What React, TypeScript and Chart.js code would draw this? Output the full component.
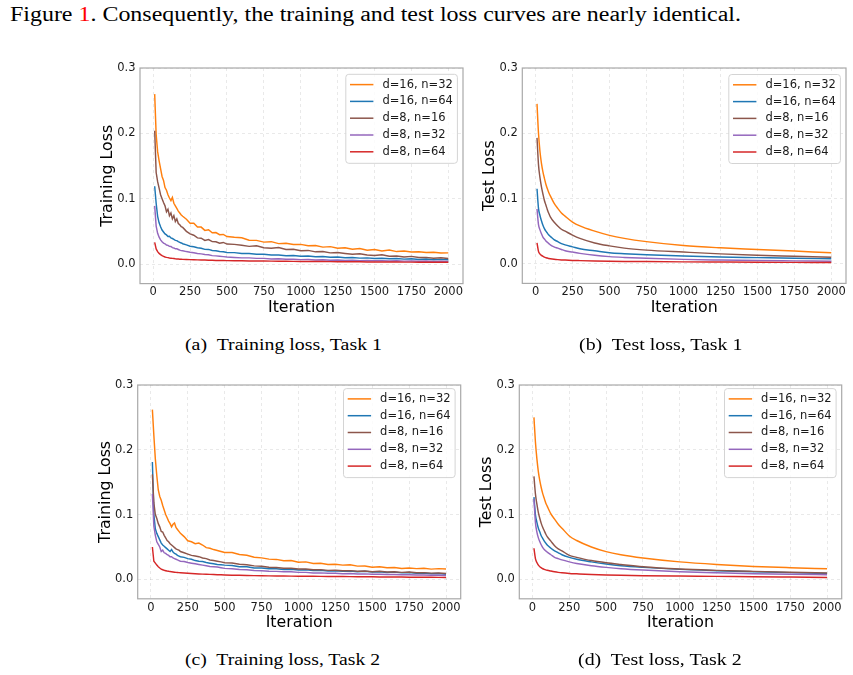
import React, { useEffect, useLayoutEffect, useRef } from 'react';
import { Chart, registerables } from 'chart.js';

Chart.register(...registerables);

// Iterations at which losses were logged
const X_TRAIN = [
  10, 20, 30, 40, 50, 60, 70, 80, 90, 100, 110, 120, 130, 140, 150, 160, 170, 180, 190, 200,
  225, 250, 275, 300, 325, 350, 375, 400, 425, 450, 475, 500,
  550, 600, 650, 700, 750, 800, 850, 900, 950, 1000, 1050, 1100, 1150, 1200, 1250, 1300, 1350, 1400,
  1450, 1500, 1550, 1600, 1650, 1700, 1750, 1800, 1850, 1900, 1950, 2000,
];
const X_TEST = [10, 20, 30, 40, 50, 60, 70, 80, 90, 100, 125, 150, 175, 200, 250, 300, 400, 500, 600, 750, 1000, 1250, 1500, 1750, 2000];

const SERIES_LABELS = ['d=16, n=32', 'd=16, n=64', 'd=8, n=16', 'd=8, n=32', 'd=8, n=64'];
const SERIES_COLORS = ['#ff7f0e', '#1f77b4', '#8c564b', '#9467bd', '#d62728'];

const X_TICKS = [0, 250, 500, 750, 1000, 1250, 1500, 1750, 2000];
const Y_TICKS = [0, 0.1, 0.2, 0.3];

// Task 1 — training loss
const T1_TRAIN_D16_N32 = [
  0.260, 0.198, 0.172, 0.158, 0.146, 0.134, 0.128, 0.117, 0.113, 0.106, 0.101, 0.097, 0.102, 0.093, 0.089, 0.085, 0.081, 0.078, 0.075, 0.073,
  0.0685, 0.0625, 0.0625, 0.0565, 0.0565, 0.0515, 0.0525, 0.0478, 0.0482, 0.0448, 0.0452, 0.0420,
  0.0408, 0.0402, 0.0365, 0.0362, 0.0335, 0.0342, 0.0312, 0.0318, 0.0298, 0.0300, 0.0280, 0.0284, 0.0258, 0.0266, 0.0240,
  0.0250, 0.0226, 0.0236, 0.0212, 0.0222, 0.0200, 0.0213, 0.0190, 0.0198, 0.0183, 0.0188, 0.0176, 0.0180, 0.0168, 0.0170,
];
const T1_TRAIN_D16_N64 = [
  0.119, 0.093, 0.073, 0.063, 0.057, 0.052, 0.049, 0.046, 0.0445, 0.042, 0.0425, 0.040, 0.039, 0.0378, 0.0362, 0.0358, 0.0342, 0.0332, 0.0322, 0.031,
  0.0292, 0.0272, 0.0264, 0.0250, 0.0240, 0.0224, 0.0223, 0.0206, 0.0203, 0.0191, 0.0188, 0.0176,
  0.0174, 0.0161, 0.0161, 0.0148, 0.0149, 0.0137, 0.0139, 0.0127, 0.0130, 0.0119, 0.0122, 0.0111, 0.0114, 0.0103, 0.0107,
  0.0096, 0.0100, 0.0090, 0.0094, 0.0084, 0.0088, 0.0079, 0.0084, 0.0075, 0.0079, 0.0070, 0.0075, 0.0066, 0.0071, 0.0064,
];
const T1_TRAIN_D8_N16 = [
  0.204, 0.140, 0.126, 0.116, 0.106, 0.100, 0.094, 0.089, 0.080, 0.084, 0.074, 0.078, 0.069, 0.074, 0.065, 0.069, 0.062, 0.060, 0.057, 0.056,
  0.050, 0.046, 0.044, 0.040, 0.0395, 0.036, 0.0374, 0.0342, 0.0340, 0.0318, 0.0330, 0.0305,
  0.0300, 0.0286, 0.0270, 0.0278, 0.0250, 0.0242, 0.0252, 0.0222, 0.0226, 0.0204, 0.0208, 0.0186, 0.0190, 0.0170, 0.0176,
  0.0162, 0.0148, 0.0156, 0.0137, 0.0131, 0.0140, 0.0119, 0.0123, 0.0107, 0.0117, 0.0099, 0.0101, 0.0089, 0.0097, 0.0083,
];
const T1_TRAIN_D8_N32 = [
  0.089, 0.058, 0.047, 0.041, 0.037, 0.034, 0.032, 0.031, 0.029, 0.0285, 0.027, 0.0268, 0.025, 0.0245, 0.0232, 0.0232, 0.0222, 0.0212, 0.0205, 0.0202,
  0.019, 0.018, 0.0172, 0.0162, 0.0155, 0.0146, 0.0142, 0.0128, 0.0124, 0.0118, 0.0113, 0.0107,
  0.0101, 0.0094, 0.0094, 0.0086, 0.0086, 0.0078, 0.0079, 0.0072, 0.0073, 0.0067, 0.0068, 0.0062, 0.0064, 0.0058, 0.0060,
  0.0054, 0.0057, 0.0051, 0.0054, 0.0049, 0.0051, 0.0046, 0.0049, 0.0044, 0.0047, 0.0042, 0.0045, 0.0040, 0.0043, 0.0039,
];
const T1_TRAIN_D8_N64 = [
  0.033, 0.023, 0.019, 0.0162, 0.0144, 0.0128, 0.0118, 0.0108, 0.0102, 0.0097, 0.0092, 0.0089, 0.0086, 0.0083, 0.008, 0.0078, 0.0076, 0.0074, 0.0073, 0.0071,
  0.0069, 0.0067, 0.0065, 0.0063, 0.0061, 0.006, 0.0058, 0.0056, 0.0055, 0.0054, 0.0053, 0.0052,
  0.005, 0.0049, 0.0047, 0.0046, 0.0045, 0.0044, 0.0042, 0.0041, 0.004, 0.0039, 0.0038, 0.0037, 0.0037, 0.0036, 0.0035,
  0.0034, 0.0034, 0.0033, 0.0032, 0.0032, 0.0031, 0.003, 0.003, 0.0029, 0.0029, 0.0028, 0.0028, 0.0027, 0.0027, 0.0026,
];

// Task 1 — test loss
const T1_TEST_D16_N32 = [0.245, 0.200, 0.172, 0.154, 0.141, 0.131, 0.122, 0.115, 0.109, 0.104, 0.093, 0.085, 0.078, 0.073, 0.064, 0.058, 0.050, 0.0436, 0.039, 0.034, 0.028, 0.0245, 0.022, 0.0195, 0.017];
const T1_TEST_D16_N64 = [0.115, 0.085, 0.074, 0.066, 0.059, 0.054, 0.050, 0.047, 0.044, 0.042, 0.037, 0.034, 0.031, 0.029, 0.026, 0.023, 0.020, 0.017, 0.0155, 0.0138, 0.012, 0.0105, 0.0095, 0.0085, 0.0077];
const T1_TEST_D8_N16 = [0.193, 0.152, 0.132, 0.118, 0.107, 0.097, 0.090, 0.083, 0.077, 0.072, 0.064, 0.058, 0.053, 0.050, 0.044, 0.039, 0.032, 0.0275, 0.024, 0.021, 0.018, 0.0152, 0.013, 0.0115, 0.010];
const T1_TEST_D8_N32 = [0.084, 0.060, 0.052, 0.046, 0.041, 0.038, 0.035, 0.033, 0.031, 0.029, 0.026, 0.024, 0.022, 0.020, 0.018, 0.016, 0.013, 0.011, 0.0098, 0.0085, 0.0068, 0.0058, 0.005, 0.0045, 0.004];
const T1_TEST_D8_N64 = [0.032, 0.019, 0.015, 0.013, 0.0115, 0.0102, 0.0094, 0.0088, 0.0082, 0.0078, 0.007, 0.0064, 0.006, 0.0057, 0.0052, 0.0049, 0.0044, 0.004, 0.0037, 0.0034, 0.003, 0.0027, 0.0024, 0.0022, 0.002];

// Task 2 — training loss
const T2_TRAIN_D16_N32 = [
  0.262, 0.222, 0.186, 0.160, 0.138, 0.128, 0.122, 0.114, 0.107, 0.100, 0.095, 0.090, 0.086, 0.081, 0.085, 0.087, 0.080, 0.077, 0.074, 0.071,
  0.066, 0.0595, 0.058, 0.055, 0.056, 0.053, 0.049, 0.048, 0.046, 0.0445, 0.043, 0.0415,
  0.0415, 0.0385, 0.0372, 0.0342, 0.0332, 0.0312, 0.0308, 0.0288, 0.0290, 0.0265, 0.0270, 0.0245, 0.0250, 0.0230, 0.0232,
  0.0220, 0.0224, 0.0204, 0.0206, 0.0186, 0.0194, 0.0178, 0.0184, 0.0168, 0.0176, 0.0166, 0.0170, 0.0158, 0.0166, 0.0160,
];
const T2_TRAIN_D16_N64 = [
  0.181, 0.100, 0.078, 0.071, 0.066, 0.061, 0.056, 0.053, 0.051, 0.049, 0.047, 0.045, 0.043, 0.046, 0.042, 0.040, 0.039, 0.037, 0.036, 0.035,
  0.034, 0.032, 0.031, 0.029, 0.028, 0.0275, 0.026, 0.025, 0.024, 0.023, 0.0225, 0.022,
  0.0214, 0.0196, 0.0194, 0.0176, 0.0175, 0.0163, 0.0165, 0.0152, 0.0157, 0.0144, 0.0149, 0.0136, 0.0142, 0.0130, 0.0134,
  0.0123, 0.0130, 0.0118, 0.0124, 0.0113, 0.0117, 0.0106, 0.0112, 0.0100, 0.0106, 0.0095, 0.0097, 0.0087, 0.0090, 0.0080,
];
const T2_TRAIN_D8_N16 = [
  0.162, 0.118, 0.100, 0.094, 0.086, 0.081, 0.074, 0.073, 0.068, 0.064, 0.060, 0.058, 0.055, 0.053, 0.051, 0.049, 0.047, 0.046, 0.045, 0.043,
  0.041, 0.039, 0.037, 0.036, 0.035, 0.033, 0.032, 0.030, 0.029, 0.028, 0.027, 0.0256,
  0.0252, 0.0232, 0.0226, 0.0208, 0.0202, 0.0188, 0.0184, 0.0171, 0.0171, 0.0159, 0.0159, 0.0148, 0.0150, 0.0139, 0.0140,
  0.0133, 0.0135, 0.0125, 0.0130, 0.0118, 0.0124, 0.0113, 0.0116, 0.0108, 0.0113, 0.0103, 0.0104, 0.0096, 0.0098, 0.0092,
];
const T2_TRAIN_D8_N32 = [
  0.132, 0.082, 0.068, 0.058, 0.054, 0.050, 0.043, 0.045, 0.041, 0.040, 0.038, 0.037, 0.035, 0.035, 0.033, 0.032, 0.031, 0.030, 0.029, 0.028,
  0.0275, 0.026, 0.025, 0.024, 0.023, 0.022, 0.021, 0.020, 0.0195, 0.019, 0.018, 0.017,
  0.0164, 0.0153, 0.0148, 0.0138, 0.0133, 0.0126, 0.0123, 0.0116, 0.0118, 0.0108, 0.0108, 0.0099, 0.0100, 0.0094, 0.0093,
  0.0086, 0.0089, 0.0082, 0.0085, 0.0078, 0.0080, 0.0075, 0.0076, 0.0071, 0.0072, 0.0067, 0.0068, 0.0063, 0.0064, 0.0060,
];
const T2_TRAIN_D8_N64 = [
  0.050, 0.028, 0.025, 0.022, 0.0195, 0.0175, 0.0158, 0.0148, 0.014, 0.0134, 0.0128, 0.0124, 0.012, 0.0117, 0.0114, 0.0111, 0.0108, 0.0106, 0.0104, 0.0102,
  0.0097, 0.0093, 0.009, 0.0087, 0.0084, 0.0081, 0.0079, 0.0077, 0.0075, 0.0072, 0.007, 0.0068,
  0.0065, 0.0062, 0.006, 0.0058, 0.0056, 0.0054, 0.0053, 0.0052, 0.005, 0.0049, 0.0048, 0.0047, 0.0046, 0.0045, 0.0044,
  0.0043, 0.0042, 0.0041, 0.004, 0.0039, 0.0038, 0.0037, 0.0036, 0.0035, 0.0034, 0.0034, 0.0033, 0.0032, 0.0031, 0.003,
];

// Task 2 — test loss
const T2_TEST_D16_N32 = [0.250, 0.212, 0.186, 0.166, 0.152, 0.141, 0.132, 0.125, 0.118, 0.113, 0.101, 0.093, 0.085, 0.079, 0.067, 0.060, 0.050, 0.0428, 0.038, 0.033, 0.027, 0.023, 0.020, 0.018, 0.0164];
const T2_TEST_D16_N64 = [0.127, 0.100, 0.088, 0.079, 0.073, 0.067, 0.063, 0.059, 0.056, 0.053, 0.048, 0.044, 0.041, 0.038, 0.034, 0.031, 0.027, 0.0236, 0.021, 0.0185, 0.0154, 0.0134, 0.0118, 0.0104, 0.0092];
const T2_TEST_D8_N16 = [0.159, 0.132, 0.116, 0.103, 0.094, 0.086, 0.080, 0.075, 0.070, 0.066, 0.059, 0.052, 0.047, 0.044, 0.037, 0.034, 0.029, 0.0256, 0.023, 0.0195, 0.016, 0.0139, 0.0123, 0.0109, 0.0097];
const T2_TEST_D8_N32 = [0.124, 0.088, 0.073, 0.064, 0.058, 0.053, 0.049, 0.046, 0.044, 0.042, 0.038, 0.034, 0.032, 0.030, 0.027, 0.0245, 0.021, 0.0185, 0.0165, 0.0144, 0.0118, 0.0101, 0.0088, 0.0079, 0.0072];
const T2_TEST_D8_N64 = [0.048, 0.032, 0.026, 0.022, 0.0195, 0.0178, 0.0164, 0.0154, 0.0146, 0.014, 0.0128, 0.0117, 0.0108, 0.0101, 0.0092, 0.0086, 0.0075, 0.0067, 0.0062, 0.0057, 0.0051, 0.0046, 0.004, 0.0035, 0.003];

// Axis limits (x gets a 5% margin around the logged range)
const X_MIN = -89.5;
const X_MAX = 2099.5;
const Y_MIN = -0.03;
const Y_MAX = 0.3;

const TICK_FONT = { family: 'DejaVu Sans', size: 11.5 };
const TITLE_SIZE = 15.8;
const TITLE_FONT = { family: 'DejaVu Sans', size: TITLE_SIZE, lineHeight: 1.2 };
const GRID_COLOR = 'rgba(0,0,0,0.11)';

type Box = { l: number; r: number; t: number; b: number };

// Axes frame plus a framed legend in the upper-right corner of the plot area
const frameLegend = {
  id: 'frameLegend',
  afterDatasetsDraw(chart: any, _args: any, opts: any) {
    const { ctx, chartArea: a } = chart;
    ctx.save();
    ctx.strokeStyle = '#a9a9a9';
    ctx.lineWidth = 1.2;
    ctx.strokeRect(a.left, a.top, a.right - a.left, a.bottom - a.top);

    const w = 111.6;
    const h = 89;
    const x0 = a.right - 5.6 - w;
    const y0 = a.top + (opts.top ?? 5);
    const rad = 3;
    ctx.beginPath();
    ctx.moveTo(x0 + rad, y0);
    ctx.lineTo(x0 + w - rad, y0);
    ctx.quadraticCurveTo(x0 + w, y0, x0 + w, y0 + rad);
    ctx.lineTo(x0 + w, y0 + h - rad);
    ctx.quadraticCurveTo(x0 + w, y0 + h, x0 + w - rad, y0 + h);
    ctx.lineTo(x0 + rad, y0 + h);
    ctx.quadraticCurveTo(x0, y0 + h, x0, y0 + h - rad);
    ctx.lineTo(x0, y0 + rad);
    ctx.quadraticCurveTo(x0, y0, x0 + rad, y0);
    ctx.closePath();
    ctx.fillStyle = 'rgba(255,255,255,0.8)';
    ctx.fill();
    ctx.strokeStyle = '#d4d4d4';
    ctx.lineWidth = 1;
    ctx.stroke();

    ctx.font = '11.5px "DejaVu Sans"';
    ctx.textBaseline = 'middle';
    ctx.textAlign = 'left';
    chart.data.datasets.forEach((ds: any, i: number) => {
      const y = y0 + 10.3 + i * 16.8;
      ctx.strokeStyle = ds.borderColor;
      ctx.lineWidth = 1.5;
      ctx.beginPath();
      ctx.moveTo(x0 + 4.2, y);
      ctx.lineTo(x0 + 27.6, y);
      ctx.stroke();
      ctx.fillStyle = '#1a1a1a';
      ctx.fillText(ds.label, x0 + 36.6, y);
    });
    ctx.restore();
  },
};

type PanelProps = {
  box: Box;
  xs: number[];
  series: number[][];
  yTitle: string;
  smooth: boolean;
  legendTop: number;
};

function Panel({ box, xs, series, yTitle, smooth, legendTop }: PanelProps) {
  const ref = useRef<HTMLCanvasElement | null>(null);
  const L = Math.floor(box.l - 60);
  const T = Math.floor(box.t - 16);
  const R = Math.ceil(box.r + 10);
  const B = Math.ceil(box.b + 46);
  const W = R - L;
  const H = B - T;
  const lh = TITLE_SIZE * 1.2;

  useEffect(() => {
    if (!ref.current) return;
    const chart = new Chart(ref.current, {
      type: 'line',
      data: {
        datasets: series.map((vals, i) => ({
          label: SERIES_LABELS[i],
          data: xs.map((x, j) => ({ x, y: vals[j] })),
          borderColor: SERIES_COLORS[i],
          backgroundColor: SERIES_COLORS[i],
          borderWidth: 1.45,
          pointRadius: 0,
          fill: false,
          tension: 0,
          cubicInterpolationMode: smooth ? 'monotone' : 'default',
          order: series.length - i,
        })),
      },
      options: {
        responsive: false,
        animation: false,
        devicePixelRatio: 1,
        events: [],
        layout: { padding: { left: 0, top: box.t - T, right: R - box.r, bottom: 0 } },
        plugins: {
          legend: { display: false },
          tooltip: { enabled: false },
          frameLegend: { top: legendTop },
        } as any,
        scales: {
          x: {
            type: 'linear',
            min: X_MIN,
            max: X_MAX,
            afterBuildTicks: (s: any) => {
              s.ticks = X_TICKS.map((v) => ({ value: v }));
            },
            afterFit: (s: any) => {
              s.height = B - box.b;
              s.paddingLeft = 0;
              s.paddingRight = 0;
            },
            ticks: {
              font: TICK_FONT,
              color: '#1a1a1a',
              padding: 2,
              autoSkip: false,
              maxRotation: 0,
              minRotation: 0,
              callback: (v: any) => String(v),
            },
            grid: { color: GRID_COLOR, lineWidth: 0.8, drawTicks: false },
            border: { display: false, dash: [3, 3] },
            title: {
              display: true,
              text: 'Iteration',
              font: TITLE_FONT,
              color: '#000',
              padding: { top: 0, bottom: B - (box.b + 24.5) - lh / 2 },
            },
          },
          y: {
            type: 'linear',
            min: Y_MIN,
            max: Y_MAX,
            afterBuildTicks: (s: any) => {
              s.ticks = Y_TICKS.map((v) => ({ value: v }));
            },
            afterFit: (s: any) => {
              s.width = box.l - L;
              s.paddingTop = 0;
              s.paddingBottom = 0;
            },
            ticks: {
              font: TICK_FONT,
              color: '#1a1a1a',
              padding: 4.5,
              callback: (v: any) => Number(v).toFixed(1),
            },
            grid: { color: GRID_COLOR, lineWidth: 0.8, drawTicks: false },
            border: { display: false, dash: [3, 3] },
            title: {
              display: true,
              text: yTitle,
              font: TITLE_FONT,
              color: '#000',
              padding: { top: box.l - 32 - L - lh / 2, bottom: 0 },
            },
          },
        },
      } as any,
      plugins: [frameLegend],
    });
    return () => chart.destroy();
  }, []);

  return (
    <canvas
      ref={ref}
      width={W}
      height={H}
      style={{ position: 'absolute', left: L, top: T, width: W, height: H }}
    />
  );
}

type FitTextProps = {
  left: number;
  baseline: number;
  width: number;
  size: number;
  children: React.ReactNode;
};

// Serif caption line stretched to a fixed width
function FitText({ left, baseline, width, size, children }: FitTextProps) {
  const ref = useRef<HTMLDivElement | null>(null);
  useLayoutEffect(() => {
    const el = ref.current;
    if (!el) return;
    el.style.transform = 'none';
    const w = el.getBoundingClientRect().width;
    if (w > 0) el.style.transform = `scaleX(${width / w})`;
  }, [width]);
  return (
    <div
      ref={ref}
      style={{
        position: 'absolute',
        left,
        top: baseline - size * 0.8375,
        fontFamily: '"Liberation Serif", "Times New Roman", serif',
        fontSize: size,
        lineHeight: 1,
        whiteSpace: 'nowrap',
        transformOrigin: '0 0',
        color: '#000',
      }}
    >
      {children}
    </div>
  );
}

const BOX_A: Box = { l: 140, r: 463, t: 68, b: 283.6 };
const BOX_B: Box = { l: 522.3, r: 846, t: 68, b: 283.4 };
const BOX_C: Box = { l: 137.7, r: 460.7, t: 385, b: 598.8 };
const BOX_D: Box = { l: 519.3, r: 841.7, t: 385, b: 598.8 };

export default function App() {
  return (
    <div
      style={{
        position: 'absolute',
        left: 0,
        top: 0,
        width: 853,
        height: 675,
        background: '#fff',
        overflow: 'hidden',
      }}
    >
      <FitText left={10} baseline={21} width={731} size={20}>
        Figure <span style={{ color: '#ff0000' }}>1</span>. Consequently, the training and test loss curves are nearly identical.
      </FitText>

      <Panel
        box={BOX_A}
        xs={X_TRAIN}
        series={[T1_TRAIN_D16_N32, T1_TRAIN_D16_N64, T1_TRAIN_D8_N16, T1_TRAIN_D8_N32, T1_TRAIN_D8_N64]}
        yTitle="Training Loss"
        smooth={false}
        legendTop={6.3}
      />
      <Panel
        box={BOX_B}
        xs={X_TEST}
        series={[T1_TEST_D16_N32, T1_TEST_D16_N64, T1_TEST_D8_N16, T1_TEST_D8_N32, T1_TEST_D8_N64]}
        yTitle="Test Loss"
        smooth={true}
        legendTop={6.5}
      />
      <Panel
        box={BOX_C}
        xs={X_TRAIN}
        series={[T2_TRAIN_D16_N32, T2_TRAIN_D16_N64, T2_TRAIN_D8_N16, T2_TRAIN_D8_N32, T2_TRAIN_D8_N64]}
        yTitle="Training Loss"
        smooth={false}
        legendTop={3.6}
      />
      <Panel
        box={BOX_D}
        xs={X_TEST}
        series={[T2_TEST_D16_N32, T2_TEST_D16_N64, T2_TEST_D8_N16, T2_TEST_D8_N32, T2_TEST_D8_N64]}
        yTitle="Test Loss"
        smooth={true}
        legendTop={3.6}
      />

      <FitText left={185} baseline={350.5} width={197} size={17.5}>
        (a)&nbsp; Training loss, Task 1
      </FitText>
      <FitText left={579} baseline={350.5} width={163.5} size={17.5}>
        (b)&nbsp; Test loss, Task 1
      </FitText>
      <FitText left={185} baseline={665.5} width={195} size={17.5}>
        (c)&nbsp; Training loss, Task 2
      </FitText>
      <FitText left={578} baseline={665.5} width={163.7} size={17.5}>
        (d)&nbsp; Test loss, Task 2
      </FitText>
    </div>
  );
}
